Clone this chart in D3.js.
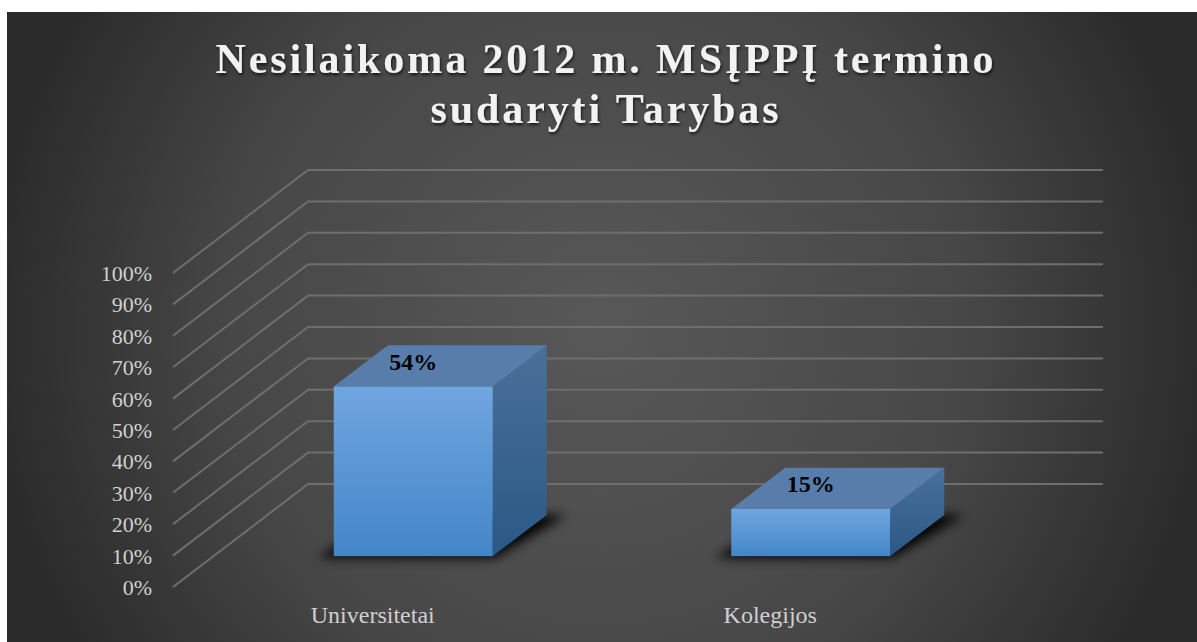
<!DOCTYPE html>
<html><head><meta charset="utf-8">
<script src="https://d3js.org/d3.v7.min.js"></script>
<style>html,body{margin:0;padding:0;background:#fff}svg{display:block}</style>
</head><body><svg id="c" width="1197" height="642"></svg>
<script>
const categories = ["Universitetai", "Kolegijos"];
const values = [54, 15];
const labels = ["54%", "15%"];
const yTicks = [0,10,20,30,40,50,60,70,80,90,100];
const titleLines = ["Nesilaikoma 2012 m. MSĮPPĮ termino", "sudaryti Tarybas"];

const W=1197,H=642, serif='"Liberation Serif","Times New Roman",serif';
const svg=d3.select("#c");
const defs=svg.append("defs");
const bgG=defs.append("radialGradient").attr("id","bg").attr("gradientUnits","userSpaceOnUse")
  .attr("cx",600).attr("cy",327).attr("r",610);
[[0,"#585858"],[0.6,"#474747"],[1,"#2b2b2b"]].forEach(s=>bgG.append("stop").attr("offset",s[0]).attr("stop-color",s[1]));
const lg=(id,a,b)=>{const g=defs.append("linearGradient").attr("id",id).attr("x1",0).attr("y1",0).attr("x2",0).attr("y2",1);
  g.append("stop").attr("offset",0).attr("stop-color",a);g.append("stop").attr("offset",1).attr("stop-color",b);};
lg("front","#70a6e0","#4385c9");
lg("side","#4a7099","#2a5985");
defs.append("filter").attr("id","blur").attr("x","-20%").attr("y","-40%").attr("width","140%").attr("height","180%").append("feGaussianBlur").attr("stdDeviation",5.5);
defs.append("filter").attr("id","soft").attr("filterUnits","userSpaceOnUse").attr("x",0).attr("y",0).attr("width",W).attr("height",H).append("feGaussianBlur").attr("stdDeviation",0.5);
const ts=defs.append("filter").attr("id","ts").attr("x","-5%").attr("y","-20%").attr("width","110%").attr("height","150%");
ts.append("feDropShadow").attr("dx",1).attr("dy",2).attr("stdDeviation",1.5).attr("flood-color","#000").attr("flood-opacity",0.7);

svg.append("rect").attr("x",7).attr("y",12).attr("width",W-7).attr("height",H-12).attr("fill","url(#bg)");

// 3D frame
const originX=173, originY=587, depthX=135, depthY=103;
const xBand=d3.scaleBand().domain(categories).range([1,796]).paddingInner(0.6).paddingOuter(0.3);
const y=d3.scaleLinear().domain([0,100]).range([0,314]);
const px=(x,z)=>originX+x+z*depthX;
const py=(v,z)=>originY-y(v)-z*depthY;

const grid=svg.append("g").attr("fill","none").attr("stroke","#6e6e6e").attr("stroke-width",2).attr("filter","url(#soft)");
yTicks.forEach(t=>{
  grid.append("path").attr("d",d3.line()([[px(0,0),py(t,0)],[px(0,1),py(t,1)],[px(795,1),py(t,1)]]));
});

svg.append("g").selectAll("text").data(yTicks).join("text")
  .attr("x",152).attr("y",d=>py(d,0)+8).attr("text-anchor","end")
  .attr("font-family",serif).attr("font-size",22).attr("fill","#d0d0d0").text(d=>d+"%");

const z0=0.3,z1=0.7;
const bars=svg.append("g").selectAll("g").data(categories.map((c,i)=>({c,v:values[i],l:labels[i]}))).join("g");
const poly=pts=>d3.line()(pts)+"Z";
// floor shadow
bars.append("path").attr("filter","url(#blur)").attr("fill","#000").attr("opacity",0.95)
  .attr("d",d=>{const a=xBand(d.c),b=a+xBand.bandwidth();
    return poly([[px(a,z0)-16,py(0,z0)+2],[px(b,z0)+2,py(0,z0)+2],[px(b,z1)+20,py(0,z1)],[px(a,z1),py(0,z1)]]);});
// side
bars.append("path").attr("fill","url(#side)")
  .attr("d",d=>{const b=xBand(d.c)+xBand.bandwidth();
    return poly([[px(b,z0),py(0,z0)],[px(b,z1),py(0,z1)],[px(b,z1),py(d.v,z1)],[px(b,z0),py(d.v,z0)]]);});
// top
bars.append("path").attr("fill","#587dab")
  .attr("d",d=>{const a=xBand(d.c),b=a+xBand.bandwidth();
    return poly([[px(a,z0),py(d.v,z0)],[px(b,z0),py(d.v,z0)],[px(b,z1),py(d.v,z1)],[px(a,z1),py(d.v,z1)]]);});
// front
bars.append("rect").attr("fill","url(#front)")
  .attr("x",d=>px(xBand(d.c),z0)).attr("width",xBand.bandwidth())
  .attr("y",d=>py(d.v,z0)).attr("height",d=>y(d.v));
// data labels
bars.append("text").attr("text-anchor","middle").attr("font-family",serif).attr("font-weight","bold")
  .attr("font-size",24).attr("fill","#000")
  .attr("x",d=>px(xBand(d.c)+xBand.bandwidth()/2,z0))
  .attr("y",d=>py(d.v,z0)-17).text(d=>d.l);

// category labels
svg.append("g").selectAll("text").data(categories).join("text")
  .attr("x",d=>px(xBand(d)+xBand.bandwidth()/2,0)).attr("y",623)
  .attr("text-anchor","middle").attr("font-family",serif).attr("font-size",24).attr("fill","#d0d0d0").text(d=>d);

// title
svg.append("g").selectAll("text").data(titleLines).join("text")
  .attr("x",606).attr("y",(d,i)=>73+i*49.5).attr("text-anchor","middle").attr("font-family",serif)
  .attr("font-weight","bold").attr("font-size",42).attr("letter-spacing",2.9).attr("fill","#f2f2f2")
  .attr("filter","url(#ts)").text(d=>d);
</script></body></html>
